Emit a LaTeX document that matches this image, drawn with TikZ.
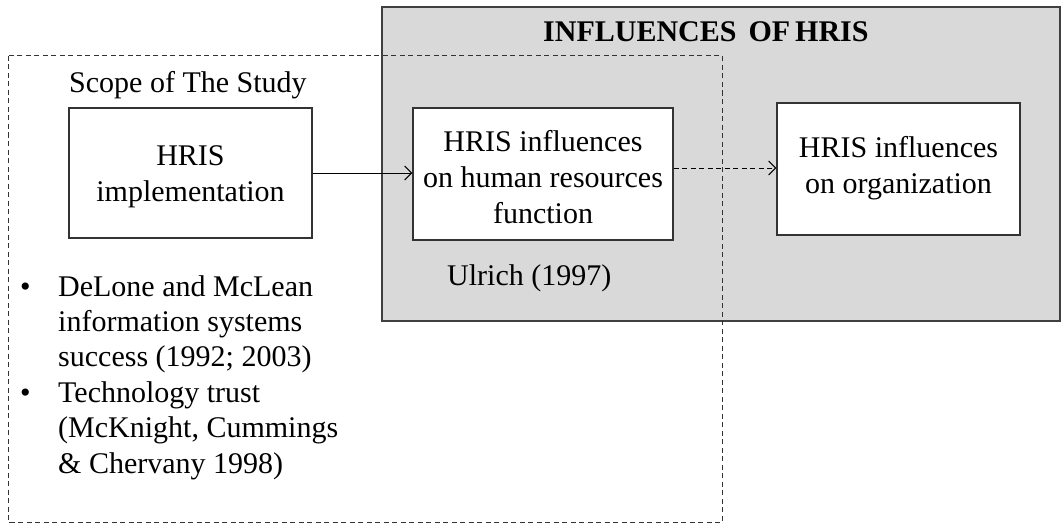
\documentclass[tikz,border=0pt]{standalone}
\usepackage{fontspec}
\setmainfont{Liberation Serif}
\usetikzlibrary{arrows.meta}
\begin{document}
\begin{tikzpicture}[x=1pt,y=-1pt,
  every node/.style={inner sep=0pt, font=\fontsize{30}{36}\selectfont},
  boxw/.style={draw=black!80, line width=1.3pt, fill=white},
  txt/.style={align=center},
  conn/.style={line width=1pt, -{Straight Barb[length=7pt,width=14pt,line width=1pt]}},
  dashline/.style={dash pattern=on 5pt off 3.5pt}
]
\useasboundingbox (0,0) rectangle (1062,524);
% grey area
\node[draw=black!75, line width=1.8pt, fill=black!15, minimum width=678pt, minimum height=314pt] (grey) at (721,164) {};
% dashed scope
\draw[dashline, line width=1pt, black!80] (8,56) rectangle (722,522);
\node[anchor=base west, font=\fontsize{30}{36}\selectfont\bfseries] (title) at (543,42) {INFLUENCES\hspace{12pt}OF\hspace{5pt}HRIS};
\node[anchor=base west] (scope) at (69,93) {Scope of The Study};
\node[boxw, minimum width=243pt, minimum height=130pt] (b1) at (190.5,173) {};
\node[boxw, minimum width=260pt, minimum height=132pt] (b2) at (543,174) {};
\node[boxw, minimum width=243pt, minimum height=132pt] (b3) at (898.5,169) {};
\node[txt] (t1) at (190.5,177) {HRIS\\implementation};
\node[txt] (t2) at (543,177.5) {HRIS influences\\on human resources\\function};
\node[txt] (t3) at (898.5,168) {HRIS influences\\on organization};
\node[anchor=base west] (ulrich) at (447,285) {Ulrich (1997)};
\node[anchor=base west, font=\fontsize{30}{35.4}\selectfont] (refs) at (20,296) {%
\begin{tabular}[t]{@{}p{38pt}@{}l@{}}
\textbullet & DeLone and McLean\\
 & information systems\\
 & success (1992; 2003)\\
\textbullet & Technology trust\\
 & (McKnight, Cummings\\
 & \& Chervany 1998)
\end{tabular}};
\draw[conn] (b1.east |- 0,173) -- (b2.west |- 0,173);
\draw[conn, dashline] (b2.east |- 0,168) -- (b3.west |- 0,168);
\end{tikzpicture}
\end{document}
